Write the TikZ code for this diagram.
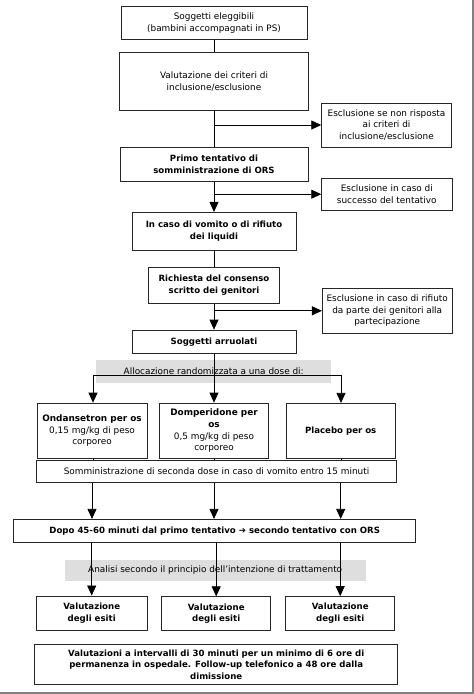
\documentclass[tikz,border=0pt]{standalone}
\usepackage{fontspec}
\setmainfont{DejaVu Sans}
\usetikzlibrary{arrows.meta}

\tikzset{
  box/.style={draw=black!85, line width=0.8pt, align=center, inner sep=1pt,
    font=\fontsize{8.9}{11.7}\selectfont},
  boldbox/.style={box, font=\fontsize{8.6}{11.7}\selectfont\bfseries},
  band/.style={fill=black!13, inner sep=0pt, align=center,
    font=\fontsize{8.9}{11.7}\selectfont},
  link/.style={line width=0.8pt},
  arr/.style={line width=0.8pt, -{Triangle[width=9pt,length=10pt]}}
}

\begin{document}
\begin{tikzpicture}[x=1pt, y=-1pt]

    \useasboundingbox (0,0) rectangle (474,694);

    \fill[black!50] (472,0) rectangle (474,694);

    \fill[black!50] (0,692) rectangle (474,694);



    \node[box, minimum width=186pt, minimum height=33pt] (sogg) at (214,22.7)
      {Soggetti eleggibili\\(bambini accompagnati in PS)};

    \node[box, minimum width=189pt, minimum height=58pt] (valut) at (214,81.3)
      {Valutazione dei criteri di\\inclusione/esclusione};

    \node[box, minimum width=129.6pt, minimum height=44pt] (escl1) at (386.5,125)
      {Esclusione se non risposta\\ai criteri di\\inclusione/esclusione};

    \node[boldbox, minimum width=188pt, minimum height=33.6pt] (primo) at (214,164.5)
      {Primo tentativo di\\somministrazione di ORS};

    \node[box, minimum width=130.3pt, minimum height=32.3pt] (escl2) at (386.8,194.2)
      {Esclusione in caso di\\successo del tentativo};

    \node[boldbox, minimum width=164pt, minimum height=37.7pt] (vomito) at (214,231.2)
      {In caso di vomito o di rifiuto\\dei liquidi};

    \node[boldbox, minimum width=131pt, minimum height=36pt] (consenso) at (214,285.3)
      {Richiesta del consenso\\scritto dei genitori};

    \node[box, minimum width=129.7pt, minimum height=45pt] (escl3) at (387.2,310.8)
      {Esclusione in caso di rifiuto\\da parte dei genitori alla\\partecipazione};

    \node[boldbox, minimum width=164pt, minimum height=23.3pt] (arruol) at (214,341.7)
      {Soggetti arruolati};



    \node[band, minimum width=234.7pt, minimum height=22.7pt] (alloc) at (213.7,371.3)
      {Allocazione randomizzata a una dose di:};

    \coordinate (alloL) at (93,375);

    \coordinate (alloR) at (341,375);



    \node[box, minimum width=110pt, minimum height=55.3pt] (ondans) at (92,430.7)
      {\textbf{Ondansetron per os}\\0,15 mg/kg di peso\\corporeo};

    \node[box, minimum width=108.6pt, minimum height=55.3pt] (domper) at (214,430.7)
      {\textbf{Domperidone per}\\\textbf{os}\\0,5 mg/kg di peso\\corporeo};

    \node[boldbox, minimum width=109pt, minimum height=55pt] (placebo) at (340.7,430.8)
      {Placebo per os};

    \node[box, minimum width=360.4pt, minimum height=22.7pt] (sommin) at (216.5,471.3)
      {Somministrazione di seconda dose in caso di vomito entro 15 minuti};

    \node[boldbox, minimum width=402pt, minimum height=23pt] (dopo) at (214.7,530.8)
      {Dopo 45-60 minuti dal primo tentativo ➔ secondo tentativo con ORS};



    \node[band, minimum width=301pt, minimum height=21pt] (analisi) at (215.2,570.5)
      {Analisi secondo il principio dell’intenzione di trattamento};



    \node[boldbox, minimum width=110.7pt, minimum height=34.7pt] (esiti1) at (91.7,613.3)
      {Valutazione\\degli esiti};

    \node[boldbox, minimum width=109pt, minimum height=34pt] (esiti2) at (216.2,613.7)
      {Valutazione\\degli esiti};

    \node[boldbox, minimum width=109pt, minimum height=34pt] (esiti3) at (340.2,613.5)
      {Valutazione\\degli esiti};

    \node[boldbox, minimum width=363pt, minimum height=39.6pt] (finale) at (216.2,664.5)
      {Valutazioni a intervalli di 30 minuti per un minimo di 6 ore di\\permanenza in ospedale. Follow-up telefonico a 48 ore dalla\\dimissione};



    \draw[link] (sogg) -- (valut);

    \draw[link] (valut) -- (primo);

    \draw[arr] (valut.south |- escl1) -- (escl1);

    \draw[arr] (primo) -- (vomito);

    \draw[arr] (primo.south |- escl2) -- (escl2);

    \draw[link] (vomito) -- (consenso);

    \draw[arr] (consenso) -- (arruol);

    \draw[arr] (consenso.south |- escl3) -- (escl3);

    \draw[arr] (arruol) -- (domper);

    \draw[link] (alloL) -- (alloR);

    \draw[arr] (alloL) -- (alloL |- ondans.north);

    \draw[arr] (alloR) -- (alloR |- placebo.north);



    \draw[link] (alloL |- ondans.south) -- (alloL |- sommin.north);

    \draw[link] (domper) -- (domper |- sommin.north);

    \draw[link] (alloR |- placebo.south) -- (alloR |- sommin.north);



    \draw[arr] (ondans |- sommin.south) -- (ondans |- dopo.north);

    \draw[arr] (domper |- sommin.south) -- (domper |- dopo.north);

    \draw[arr] (placebo |- sommin.south) -- (placebo |- dopo.north);



    \draw[arr] (esiti1 |- dopo.south) -- (esiti1);

    \draw[arr] (esiti2 |- dopo.south) -- (esiti2);

    \draw[arr] (esiti3 |- dopo.south) -- (esiti3);

  \end{tikzpicture}
\end{document}
